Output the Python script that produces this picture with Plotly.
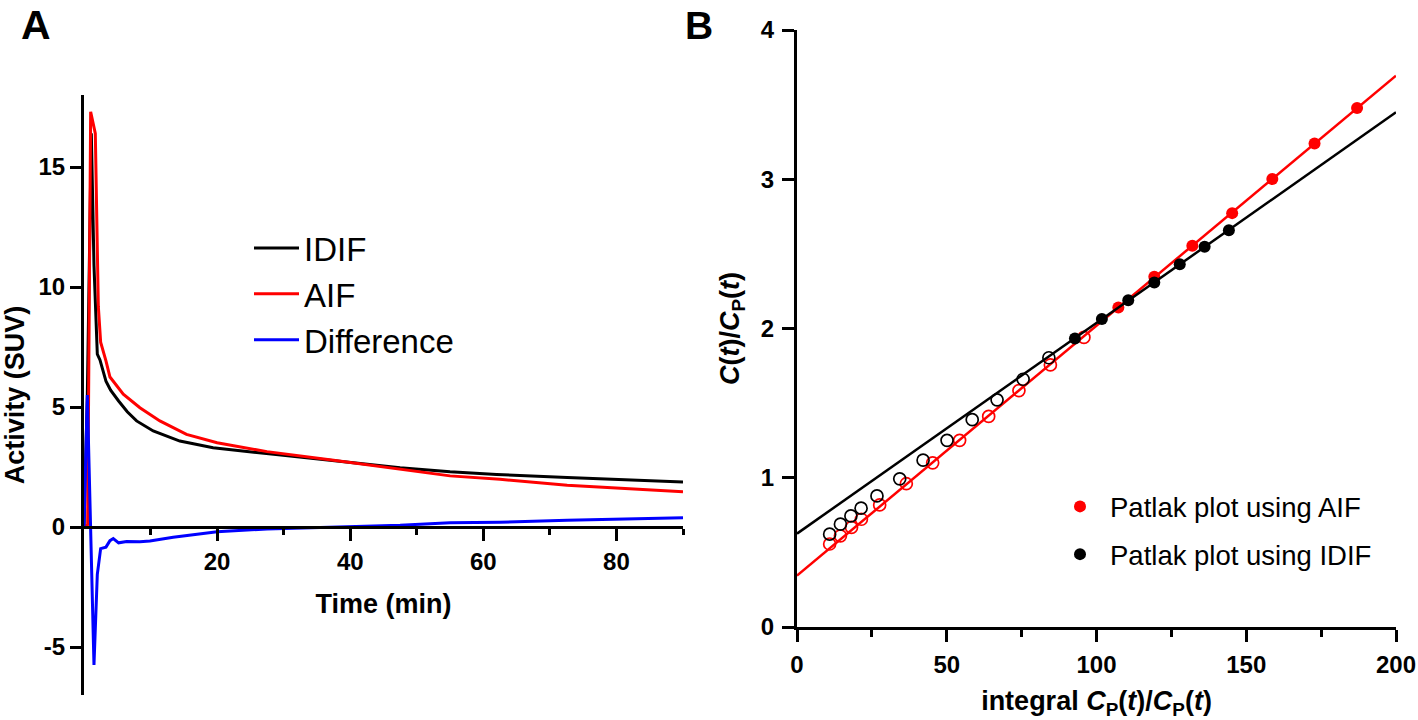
import numpy as np
import plotly.graph_objects as go

# ---------------- Panel A data ----------------
t_idif = [0, 0.5, 1.1, 1.5, 2.0, 2.4, 3.3, 4.0, 5.2, 6.5, 7.9, 10.4, 14.4, 19.4, 28.5, 37.5, 47.5, 55, 62, 72.6, 90]
idif = [0, 5.5, 16.4, 10.9, 7.2, 6.96, 6.08, 5.7, 5.25, 4.8, 4.42, 4.0, 3.58, 3.3, 3.03, 2.75, 2.47, 2.3, 2.19, 2.06, 1.88]

t_aif = [0, 0.55, 1.0, 1.7, 2.15, 2.5, 3.3, 3.9, 5.9, 8.4, 11.4, 15.4, 20, 27.5, 37.5, 47.5, 55, 62.5, 72.6, 90]
aif = [0, 0.1, 17.3, 16.4, 9.2, 7.7, 6.92, 6.25, 5.53, 4.97, 4.42, 3.86, 3.51, 3.14, 2.78, 2.40, 2.13, 1.99, 1.74, 1.47]

t_diff = [0, 0.5, 1.5, 2.0, 2.5, 3.3, 3.9, 4.4, 5.2, 6.4, 8.4, 9.9, 13.4, 20, 27.5, 37.5, 47.5, 55, 62.5, 72.6, 90]
diff = [0, 5.5, -5.75, -1.97, -0.9, -0.84, -0.57, -0.48, -0.66, -0.6, -0.61, -0.58, -0.43, -0.2, -0.08, 0.0, 0.07, 0.175, 0.2, 0.28, 0.39]

a_xticks = [20, 40, 60, 80]
a_yticks = [-5, 0, 5, 10, 15]
a_yticklabels = ["-5", "0", "5", "10", "15"]

# ---------------- Panel B data ----------------
aif_x_open = [10.9, 14.5, 18.2, 21.5, 27.6, 36.5, 45.3, 54.3, 64.0, 74.1, 84.6, 95.8]
aif_y_open = [0.556, 0.611, 0.667, 0.722, 0.818, 0.96, 1.10, 1.251, 1.411, 1.584, 1.756, 1.94]
aif_x_fit = [107.3, 119.3, 132.0, 145.3, 158.7, 172.8, 187.0]
aif_y_fit = [2.141, 2.346, 2.554, 2.773, 3.001, 3.24, 3.477]

idif_x_open = [10.9, 14.5, 18.0, 21.4, 26.7, 34.3, 42.1, 50.1, 58.5, 66.8, 75.5, 84.1]
idif_y_open = [0.622, 0.689, 0.744, 0.796, 0.878, 0.993, 1.118, 1.251, 1.389, 1.522, 1.66, 1.804]
idif_x_fit = [92.8, 101.8, 110.6, 119.3, 127.8, 136.1, 144.2]
idif_y_fit = [1.933, 2.063, 2.19, 2.308, 2.431, 2.547, 2.659]

b_xticks = [0, 50, 100, 150, 200]
b_yticks = [0, 1, 2, 3, 4]
fit_x_range = [0, 200]

FONT = "Arial, Liberation Sans, Helvetica, sans-serif"
FW, FH = 1418, 720


def px(x):
    return x / FW


def py(y):
    return 1 - y / FH


fig = go.Figure()

# Panel A traces
fig.add_trace(go.Scatter(x=t_idif, y=idif, mode="lines", name="IDIF", legendgroup="a1",
                         line=dict(color="black", width=3), xaxis="x", yaxis="y", legend="legend"))
fig.add_trace(go.Scatter(x=t_aif, y=aif, mode="lines", name="AIF", legendgroup="a2",
                         line=dict(color="#ff0000", width=3), xaxis="x", yaxis="y", legend="legend"))
fig.add_trace(go.Scatter(x=t_diff, y=diff, mode="lines", name="Difference", legendgroup="a3",
                         line=dict(color="#0000ff", width=3), xaxis="x", yaxis="y", legend="legend"))


# Panel B traces
def fit_line(xs, ys):
    k, b = np.polyfit(xs, ys, 1)
    xx = np.array(fit_x_range, dtype=float)
    return xx, k * xx + b


for xo, yo, xf, yf, col, nm, grp in [
    (aif_x_open, aif_y_open, aif_x_fit, aif_y_fit, "#ff0000", "Patlak plot using AIF", "b1"),
    (idif_x_open, idif_y_open, idif_x_fit, idif_y_fit, "black", "Patlak plot using IDIF", "b2"),
]:
    lx, ly = fit_line(xf, yf)
    fig.add_trace(go.Scatter(x=lx, y=ly, mode="lines", showlegend=False,
                             line=dict(color=col, width=2.5), xaxis="x2", yaxis="y2"))
    fig.add_trace(go.Scatter(x=xo, y=yo, mode="markers", showlegend=False,
                             marker=dict(symbol="circle-open", size=12, color=col, line=dict(width=1.7, color=col)),
                             xaxis="x2", yaxis="y2"))
    fig.add_trace(go.Scatter(x=xf, y=yf, mode="markers", name=nm, legendgroup=grp,
                             marker=dict(symbol="circle", size=12, color=col),
                             xaxis="x2", yaxis="y2", legend="legend2"))

# Domains (paper fractions from target pixel positions)
ax_dom = [px(84), px(683)]
ay_dom = [py(695), py(95)]
bx_dom = [px(797), px(1396)]
by_dom = [py(627), py(30)]
ay_rng = [-7, 18]
zero_pos = ay_dom[0] + (0 - ay_rng[0]) / (ay_rng[1] - ay_rng[0]) * (ay_dom[1] - ay_dom[0])

tickfont = dict(family=FONT, size=24, color="black", weight="bold")
titlefont = dict(family=FONT, size=27, color="black", weight="bold")

common = dict(showgrid=False, zeroline=False, showline=True, linecolor="black", linewidth=3,
              ticks="outside", tickwidth=3, tickcolor="black", tickfont=tickfont, automargin=False)

fig.update_layout(
    width=FW, height=FH,
    margin=dict(l=0, r=0, t=0, b=0, autoexpand=False),
    paper_bgcolor="white", plot_bgcolor="white",
    font=dict(family=FONT, color="black"),
    xaxis=dict(domain=ax_dom, range=[0, 90], anchor="free", position=zero_pos,
               tickvals=a_xticks, ticklen=12, ticklabelstandoff=0,
               minor=dict(tickvals=[10, 30, 50, 70, 90], ticklen=6, tickwidth=3, tickcolor="black", ticks="outside"),
               title=dict(text="Time (min)", font=titlefont, standoff=20),
               **common),
    yaxis=dict(domain=ay_dom, range=ay_rng, anchor="x",
               tickvals=a_yticks, ticktext=a_yticklabels, ticklen=11, ticklabelstandoff=0,
               title=dict(text="Activity (SUV)", font=titlefont, standoff=24),
               **common),
    xaxis2=dict(domain=bx_dom, range=[0, 200], anchor="y2",
                tickvals=b_xticks, ticklen=12, ticklabelstandoff=2,
                minor=dict(tickvals=[25, 75, 125, 175], ticklen=7, tickwidth=3, tickcolor="black", ticks="outside"),
                title=dict(text="integral <i>C</i><sub>P</sub>(<i>t</i>)/<i>C</i><sub>P</sub>(<i>t</i>)",
                           font=titlefont, standoff=24),
                **common),
    yaxis2=dict(domain=by_dom, range=[0, 4], anchor="x2",
                tickvals=b_yticks, ticklen=12, ticklabelstandoff=3,
                title=dict(text="<i>C</i>(<i>t</i>)/<i>C</i><sub>P</sub>(<i>t</i>)", font=titlefont, standoff=14),
                **common),
    legend=dict(x=px(249), y=py(220), xanchor="left", yanchor="top",
                font=dict(family=FONT, size=33, color="black"), traceorder="grouped",
                bgcolor="rgba(0,0,0,0)", itemwidth=45, tracegroupgap=0),
    legend2=dict(x=px(1050), y=py(482), xanchor="left", yanchor="top",
                 font=dict(family=FONT, size=27.5, color="black"), traceorder="grouped",
                 bgcolor="rgba(0,0,0,0)", itemsizing="constant", itemwidth=50, tracegroupgap=9),
    annotations=[
        dict(text="A", x=px(36), y=py(0), xref="paper", yref="paper", showarrow=False,
             xanchor="center", yanchor="top", font=dict(family=FONT, size=41, color="black", weight="bold")),
        dict(text="B", x=px(699), y=py(2), xref="paper", yref="paper", showarrow=False,
             xanchor="center", yanchor="top", font=dict(family=FONT, size=39, color="black", weight="bold")),
    ],
)

fig.write_html("out.html", config={"displayModeBar": False},
               post_script="document.body.style.margin='0';")
